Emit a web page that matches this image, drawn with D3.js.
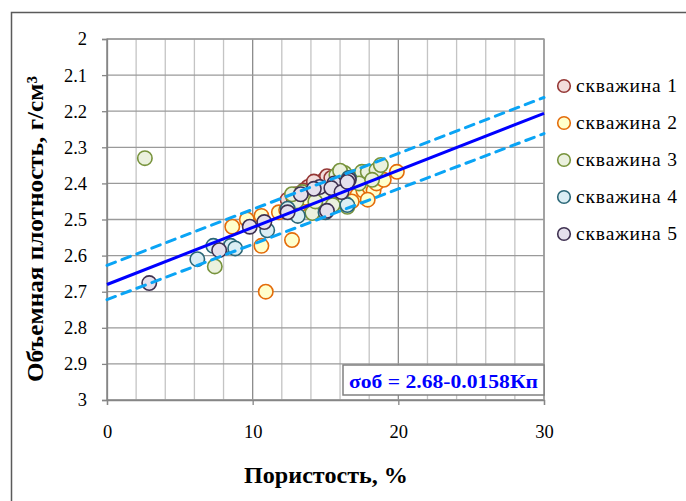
<!DOCTYPE html>
<html>
<head>
<meta charset="utf-8">
<script src="https://cdn.jsdelivr.net/npm/d3@7"></script>
<style>
    body { margin: 0; background: #fff; }
    text { font-family: "Liberation Serif", "Times New Roman", "DejaVu Serif", serif; }
</style>
</head>
<body>
<div id="chart"></div>
<script>
// data: [пористость %, плотность г/см3]
const well1 = [[12.4, 2.445], [13.0, 2.43], [13.8, 2.41], [14.45, 2.404], [14.9, 2.39], [15.1, 2.38],
    [13.5, 2.42], [14.2, 2.395], [12.8, 2.44], [15.4, 2.385], [13.2, 2.45], [14.0, 2.43]];
const well2 = [[10.9, 2.70], [10.6, 2.573], [12.7, 2.557], [8.6, 2.52], [9.6, 2.50], [10.6, 2.49],
    [11.8, 2.48], [12.3, 2.474], [13.2, 2.46], [16.2, 2.44], [17.2, 2.432], [17.6, 2.42], [18.0, 2.41],
    [18.3, 2.42], [18.5, 2.40], [19.0, 2.39], [19.9, 2.368], [17.9, 2.445], [16.8, 2.45], [13.6, 2.44], [14.5, 2.42]];
const well3 = [[2.6, 2.33], [7.4, 2.63], [13.4, 2.424], [14.1, 2.482], [15.75, 2.377], [16.3, 2.371],
    [16.0, 2.365], [17.0, 2.382], [17.5, 2.368], [17.9, 2.368], [18.5, 2.363], [18.8, 2.349], [16.3, 2.454],
    [16.5, 2.465], [15.2, 2.43], [13.0, 2.45], [14.8, 2.44], [12.7, 2.43], [17.3, 2.40], [18.2, 2.39],
    [15.5, 2.46], [14.3, 2.45]];
const well4 = [[6.2, 2.61], [7.3, 2.573], [8.5, 2.573], [8.8, 2.58], [11.0, 2.53], [13.1, 2.49],
    [12.4, 2.47], [15.0, 2.48], [16.6, 2.385], [16.5, 2.46]];
const well5 = [[2.9, 2.676], [7.7, 2.585], [9.8, 2.52], [10.8, 2.507], [12.4, 2.48], [14.6, 2.41],
    [15.6, 2.40], [16.6, 2.39], [15.1, 2.476], [15.4, 2.413], [16.1, 2.424], [16.5, 2.396], [13.3, 2.43], [14.2, 2.415]];

const wellNames = ["скважина 1", "скважина 2", "скважина 3", "скважина 4", "скважина 5"];
const wellFill = ["#f2dcdb", "#ffffcc", "#ebf1de", "#dbeef4", "#e5e0ec"];
const wellStroke = ["#953735", "#e46c0a", "#77933c", "#2b6777", "#3f3151"];

// regression σоб = 2.68 - 0.0158 Кп and the dashed band
const fitLine = [[0, 2.68], [30, 2.206]];
const upperBand = [[0, 2.627], [30, 2.162]];
const lowerBand = [[0, 2.722], [30, 2.262]];

const xTicks = [0, 10, 20, 30];
const yTicks = [2, 2.1, 2.2, 2.3, 2.4, 2.5, 2.6, 2.7, 2.8, 2.9, 3];

const W = 686, H = 501;
const plot = { left: 107, right: 544, top: 39, bottom: 400 };

const svg = d3.select("#chart").append("svg")
    .attr("width", W)
    .attr("height", H);

svg.append("rect").attr("width", W).attr("height", H).attr("fill", "#fff");

// outer chart frame
svg.append("rect")
    .attr("x", 11.5).attr("y", 12.5)
    .attr("width", 700).attr("height", 520)
    .attr("fill", "none")
    .attr("stroke", "#5a5a5a")
    .attr("stroke-width", 1.5);

const x = d3.scaleLinear().domain([0, 30]).range([plot.left, plot.right]);
const y = d3.scaleLinear().domain([2, 3]).range([plot.top, plot.bottom]);

// grid
const grid = svg.append("g");
grid.selectAll("line.v")
    .data(d3.range(0, 31, 2))
    .enter().append("line")
    .attr("x1", d => x(d)).attr("x2", d => x(d))
    .attr("y1", plot.top).attr("y2", plot.bottom)
    .attr("stroke", d => d % 10 === 0 ? "#8c8c8c" : "#c4c4c4")
    .attr("stroke-width", 1.3);

grid.selectAll("line.h")
    .data(yTicks)
    .enter().append("line")
    .attr("x1", plot.left).attr("x2", plot.right)
    .attr("y1", d => y(d)).attr("y2", d => y(d))
    .attr("stroke", "#9a9a9a")
    .attr("stroke-width", 1.3);

svg.append("rect")
    .attr("x", plot.left).attr("y", plot.top)
    .attr("width", plot.right - plot.left).attr("height", plot.bottom - plot.top)
    .attr("fill", "none")
    .attr("stroke", "#9a9a9a")
    .attr("stroke-width", 1.3);

// axes
const yAxis = svg.append("g")
    .attr("transform", `translate(${plot.left},0)`)
    .call(d3.axisLeft(y).tickValues(yTicks).tickSize(5).tickPadding(15).tickFormat(d => String(+d.toFixed(1))));

const xAxis = svg.append("g")
    .attr("transform", `translate(0,${plot.bottom})`)
    .call(d3.axisBottom(x).tickValues(xTicks).tickSize(5).tickPadding(20).tickFormat(d3.format("d")));

[yAxis, xAxis].forEach(a => {
    a.attr("font-family", null);
    a.select(".domain").attr("stroke", "#868686").attr("stroke-width", 1.3);
    a.selectAll(".tick line").attr("stroke", "#868686").attr("stroke-width", 1.3);
    a.selectAll(".tick text")
        .attr("fill", "#000")
        .style("font-size", "18.5px");
});

// points
const series = [well1, well2, well3, well4, well5];
series.forEach((pts, i) => {
    svg.append("g").selectAll("circle")
        .data(pts)
        .enter().append("circle")
        .attr("cx", d => x(d[0]))
        .attr("cy", d => y(d[1]))
        .attr("r", 7.2)
        .attr("fill", wellFill[i])
        .attr("stroke", wellStroke[i])
        .attr("stroke-width", 1.6);
});

// fit lines
const line = d3.line().x(d => x(d[0])).y(d => y(d[1]));

[upperBand, lowerBand].forEach(b => {
    svg.append("path")
        .attr("d", line(b))
        .attr("fill", "none")
        .attr("stroke", "#0aa4f5")
        .attr("stroke-width", 3)
        .attr("stroke-dasharray", "9,7")
        .attr("stroke-linecap", "round");
});

svg.append("path")
    .attr("d", line(fitLine))
    .attr("fill", "none")
    .attr("stroke", "#0000ff")
    .attr("stroke-width", 3);

// equation box
svg.append("rect")
    .attr("x", 343).attr("y", 365)
    .attr("width", plot.right - 343).attr("height", 30)
    .attr("fill", "#fff")
    .attr("stroke", "#808080")
    .attr("stroke-width", 1.5);

svg.append("text")
    .attr("x", 349).attr("y", 388)
    .attr("fill", "#0000ff")
    .attr("textLength", 189)
    .attr("lengthAdjust", "spacingAndGlyphs")
    .style("font-weight", "bold")
    .style("font-size", "19px")
    .text("σоб = 2.68-0.0158Кп");

// legend
const legend = svg.append("g");
wellNames.forEach((name, i) => {
    const ly = 86 + i * 37;
    legend.append("circle")
        .attr("cx", 564).attr("cy", ly)
        .attr("r", 6.3)
        .attr("fill", wellFill[i])
        .attr("stroke", wellStroke[i])
        .attr("stroke-width", 1.6);
    legend.append("text")
        .attr("x", 576).attr("y", ly + 6)
        .attr("fill", "#000")
        .attr("textLength", 101)
        .attr("lengthAdjust", "spacing")
        .style("font-size", "19.5px")
        .text(name);
});

// axis titles
svg.append("text")
    .attr("transform", `translate(43,229) rotate(-90)`)
    .attr("text-anchor", "middle")
    .attr("textLength", 306)
    .attr("lengthAdjust", "spacingAndGlyphs")
    .style("font-weight", "bold")
    .style("font-size", "23px")
    .text("Объемная плотность, г/см³");

svg.append("text")
    .attr("x", 326).attr("y", 483)
    .attr("text-anchor", "middle")
    .attr("textLength", 164)
    .attr("lengthAdjust", "spacingAndGlyphs")
    .style("font-weight", "bold")
    .style("font-size", "23px")
    .text("Пористость, %");
</script>
</body>
</html>
